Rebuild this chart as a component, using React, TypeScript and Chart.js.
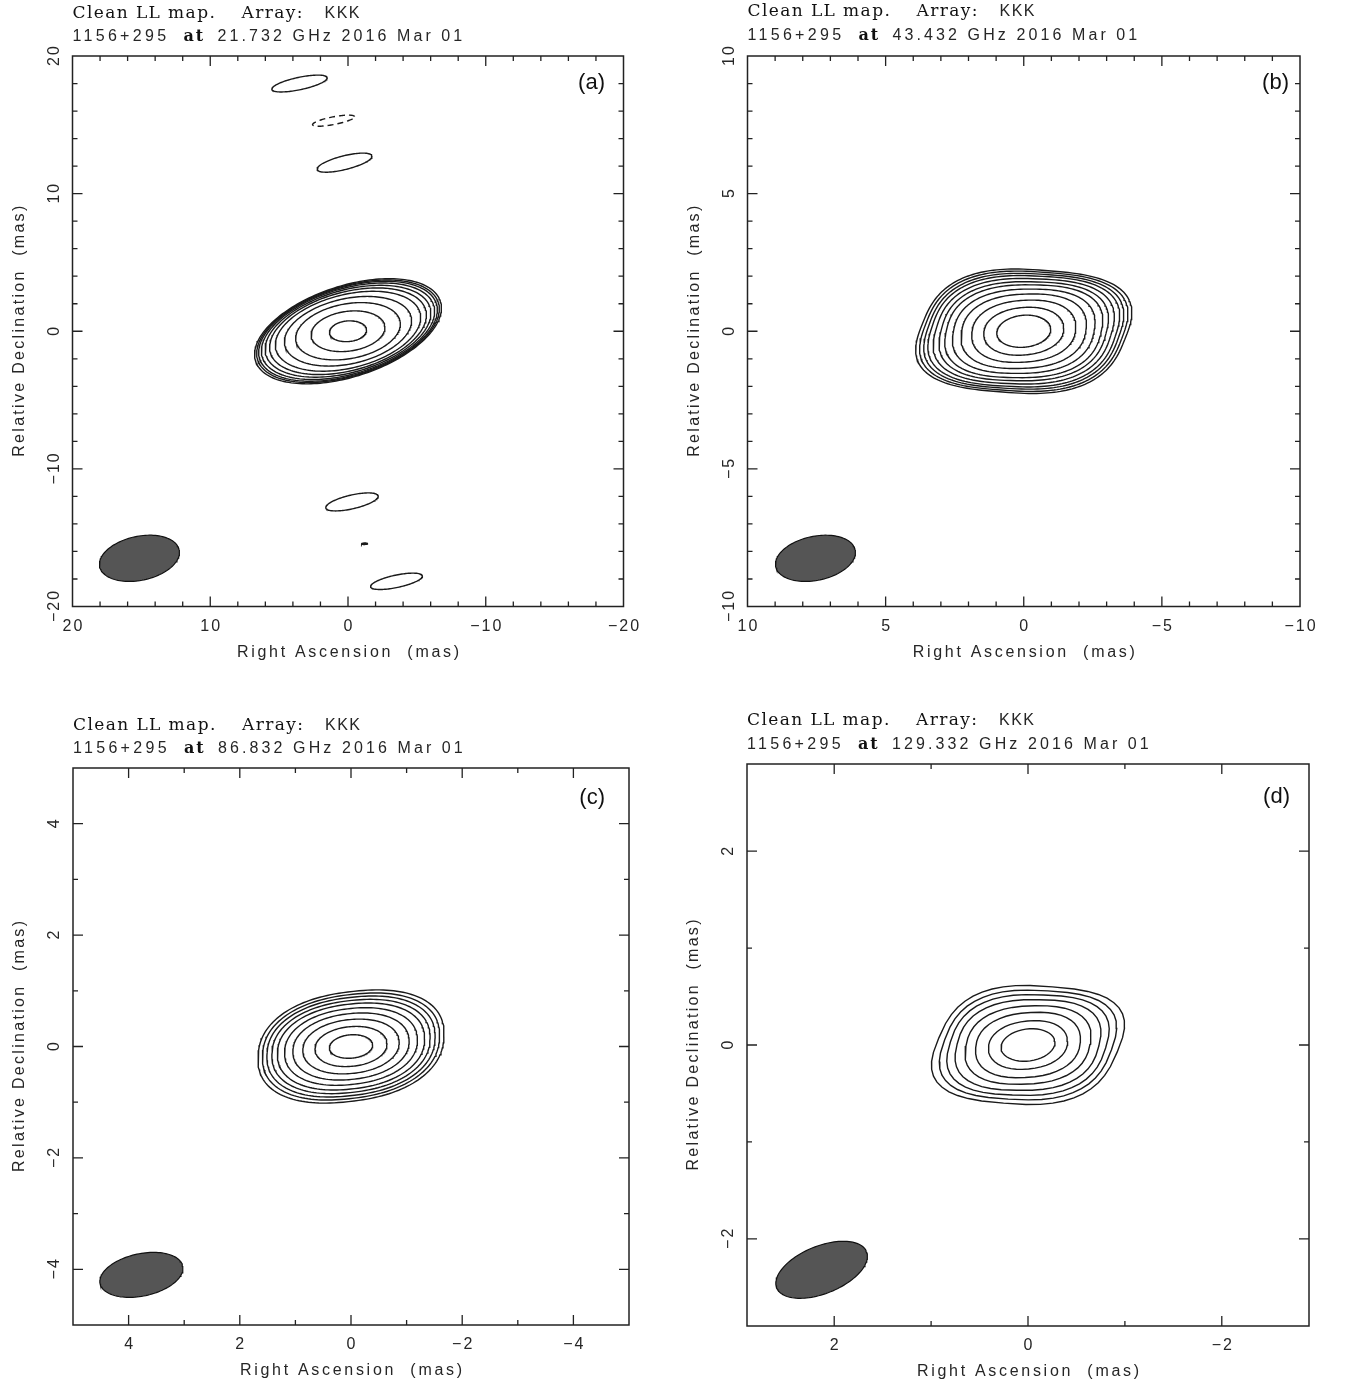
import React, { useEffect, useRef } from 'react';
import { Chart, registerables } from 'chart.js';
Chart.register(...registerables);

// ---------------- data ----------------
const panelLetters = ['(a)', '(b)', '(c)', '(d)'];
const sourceName = '1156+295';
const frequencies = ['21.732', '43.432', '86.832', '129.332'];
const obsDate = '2016 Mar 01';
const arrayName = 'KKK';

// half-range of both axes (mas)
const axisRanges = [20, 10, 5, 2.9];
const majorTicksA = [20, 10, 0, -10, -20];
const majorTicksB = [10, 5, 0, -5, -10];
const majorTicksC = [4, 2, 0, -2, -4];
const majorTicksD = [2, 0, -2];
const minorSteps = [2, 1, 1, 1];

// main component: semi-major axis of each contour (mas), inner -> outer
const levelsA = [1.35, 2.7, 3.85, 4.7, 5.4, 5.85, 6.2, 6.5, 6.72, 6.88, 7.05];
const levelsB = [0.98, 1.45, 1.88, 2.25, 2.54, 2.79, 2.97, 3.15, 3.31, 3.43, 3.55, 3.66];
const levelsC = [0.39, 0.65, 0.87, 1.05, 1.2, 1.33, 1.43, 1.52, 1.6, 1.68];
const levelsD = [0.28, 0.41, 0.54, 0.64, 0.73, 0.8, 0.86, 0.92];

// shape of innermost / outermost contour: [semi-minor (mas), squareness, x-shear, y-shear, angle (deg)]
const innerShapeA = [0.75, 2, 0, 0, 5];
const outerShapeA = [3.3, 2, 0, 0, 18];
const innerShapeB = [0.58, 2, 0, 0, 6];
const outerShapeB = [2.2, 2.8, 0.4, -0.08, 0];
const innerShapeC = [0.21, 2, 0, 0, 5];
const outerShapeC = [0.98, 2.3, 0.15, 0, 6];
const innerShapeD = [0.165, 2, 0, 0, 8];
const outerShapeD = [0.6, 2.8, 0.42, -0.08, 0];

// isolated single-contour components in panel (a)
const knotX = [3.52, 1.05, 0.25, -0.29, -1.2, -3.52];
const knotY = [18.0, 15.3, 12.25, -12.4, -15.44, -18.17];
const knotMajor = [2.05, 1.55, 2.05, 1.95, 0.22, 1.92];
const knotMinor = [0.45, 0.28, 0.5, 0.5, 0.05, 0.45];
const knotAngle = [12, 11, 14, 13, 0, 12];
const knotDashed = [false, true, false, false, false, false];

// restoring beams
const beamX = [15.14, 7.54, 3.77, 2.13];
const beamY = [-16.5, -8.25, -4.1, -2.32];
const beamMajor = [2.95, 1.47, 0.76, 0.5];
const beamMinor = [1.6, 0.8, 0.38, 0.245];
const beamAngle = [12, 12, 12, 22];

// ---------------- layout ----------------
const PAGE_W = 1349;
const PAGE_H = 1385;
const SANS = '"Liberation Sans", Arial, sans-serif';
const SERIF = '"DejaVu Serif", "Liberation Serif", serif';
const INK = '#1a1a1a';

type Panel = {
  idx: number;
  box: number[]; // canvas x, y, w, h (page coords)
  plot: number[]; // left, top, right, bottom (page coords)
  majors: number[];
  levels: number[];
  inner: number[];
  outer: number[];
  npts: number;
  titleY: number[];
  xTickY: number;
  xTitleY: number;
  yTickX: number;
  yTitleX: number;
  letterX: number;
  letterY: number;
};

const PANELS: Panel[] = [
  {
    idx: 0, box: [0, 0, 674, 692], plot: [72.5, 56, 623.5, 606.5], majors: majorTicksA,
    levels: levelsA, inner: innerShapeA, outer: outerShapeA, npts: 180,
    titleY: [17.5, 41], xTickY: 631, xTitleY: 657, yTickX: 58.5, yTitleX: 24, letterX: 605, letterY: 89,
  },
  {
    idx: 1, box: [674, 0, 675, 692], plot: [747.5, 56, 1300, 606.5], majors: majorTicksB,
    levels: levelsB, inner: innerShapeB, outer: outerShapeB, npts: 180,
    titleY: [15.5, 39.5], xTickY: 631, xTitleY: 657, yTickX: 733.5, yTitleX: 699, letterX: 1289, letterY: 89,
  },
  {
    idx: 2, box: [0, 692, 674, 693], plot: [73, 768, 629, 1325], majors: majorTicksC,
    levels: levelsC, inner: innerShapeC, outer: outerShapeC, npts: 160,
    titleY: [729.5, 753], xTickY: 1349, xTitleY: 1375, yTickX: 59, yTitleX: 24, letterX: 605, letterY: 804,
  },
  {
    idx: 3, box: [674, 692, 675, 693], plot: [747, 764, 1309, 1326], majors: majorTicksD,
    levels: levelsD, inner: innerShapeD, outer: outerShapeD, npts: 44,
    titleY: [724.5, 748.5], xTickY: 1350, xTitleY: 1376, yTickX: 733, yTitleX: 698, letterX: 1290, letterY: 803,
  },
];

// ---------------- geometry helpers ----------------
function shapePoints(cx: number, cy: number, a: number, b: number, n: number, kx: number, ky: number, angDeg: number, npts: number) {
  const th = (angDeg * Math.PI) / 180;
  const pts: { x: number; y: number }[] = [];
  for (let i = 0; i <= npts; i++) {
    const t = (2 * Math.PI * i) / npts;
    const c = Math.cos(t);
    const s = Math.sin(t);
    const u = a * Math.sign(c) * Math.pow(Math.abs(c), 2 / n);
    const v = b * Math.sign(s) * Math.pow(Math.abs(s), 2 / n);
    const u2 = u + kx * v;
    const v2 = v + ky * u;
    const right = u2 * Math.cos(th) - v2 * Math.sin(th);
    const up = u2 * Math.sin(th) + v2 * Math.cos(th);
    pts.push({ x: cx - right, y: cy + up });
  }
  return pts;
}

const lerp = (p: number, q: number, t: number) => p + (q - p) * t;

function lineDataset(data: { x: number; y: number }[], dashed = false) {
  return {
    data,
    showLine: true,
    borderColor: INK,
    borderWidth: 1.4,
    borderDash: dashed ? [6, 4] : [],
    pointRadius: 0,
    fill: false,
    tension: 0,
  };
}

function buildDatasets(p: Panel) {
  const ds: any[] = [];
  const a0 = p.levels[0];
  const a1 = p.levels[p.levels.length - 1];
  const r0 = p.inner[0] / a0;
  const r1 = p.outer[0] / a1;
  p.levels.forEach((a) => {
    const t = (a - a0) / (a1 - a0);
    const b = a * lerp(r0, r1, t);
    const pts = shapePoints(
      0, 0, a, b,
      lerp(p.inner[1], p.outer[1], t),
      lerp(p.inner[2], p.outer[2], t),
      lerp(p.inner[3], p.outer[3], t),
      lerp(p.inner[4], p.outer[4], t),
      p.npts,
    );
    ds.push(lineDataset(pts));
  });
  if (p.idx === 0) {
    knotX.forEach((x, k) => {
      ds.push(lineDataset(shapePoints(x, knotY[k], knotMajor[k], knotMinor[k], 2, 0, 0, knotAngle[k], 120), knotDashed[k]));
    });
  }
  const i = p.idx;
  ds.push({
    data: shapePoints(beamX[i], beamY[i], beamMajor[i], beamMinor[i], 2, 0, 0, beamAngle[i], 120),
    showLine: true,
    borderColor: '#111111',
    borderWidth: 1.2,
    backgroundColor: '#555555',
    fill: 'shape',
    pointRadius: 0,
    tension: 0,
  });
  return ds;
}

function fmt(v: number) {
  return v < 0 ? '\u2212' + String(Math.abs(v)) : String(v);
}

function drawText(ctx: CanvasRenderingContext2D, s: string, x: number, y: number, font: string, ls: number, align: CanvasTextAlign, rot = 0, color = '#262626') {
  ctx.save();
  ctx.font = font;
  (ctx as any).letterSpacing = ls + 'px';
  ctx.fillStyle = color;
  ctx.textAlign = align;
  ctx.textBaseline = 'alphabetic';
  ctx.translate(x, y);
  if (rot) ctx.rotate(rot);
  let dx = 0;
  if (align === 'center') dx = ls / 2;
  ctx.fillText(s, dx, 0);
  ctx.restore();
}

function framePlugin(p: Panel) {
  const ox = p.box[0];
  const oy = p.box[1];
  const range = axisRanges[p.idx];
  const minor = minorSteps[p.idx];
  return {
    id: 'frame' + p.idx,
    afterDraw(chart: any) {
      const ctx: CanvasRenderingContext2D = chart.ctx;
      const xs = chart.scales.x;
      const ys = chart.scales.y;
      const { left, right, top, bottom } = chart.chartArea;
      ctx.save();
      ctx.strokeStyle = '#222';
      ctx.lineWidth = 1.5;
      ctx.strokeRect(left, top, right - left, bottom - top);
      ctx.lineWidth = 1.3;
      const nMin = Math.ceil(-range / minor - 1e-9);
      const nMax = Math.floor(range / minor + 1e-9);
      ctx.beginPath();
      for (let k = nMin; k <= nMax; k++) {
        const v = k * minor;
        const isMajor = p.majors.some((m) => Math.abs(m - v) < 1e-9);
        const len = isMajor ? 10 : 5;
        const px = xs.getPixelForValue(v);
        const py = ys.getPixelForValue(v);
        if (px > left + 0.5 && px < right - 0.5) {
          ctx.moveTo(px, bottom); ctx.lineTo(px, bottom - len);
          ctx.moveTo(px, top); ctx.lineTo(px, top + len);
        }
        if (py > top + 0.5 && py < bottom - 0.5) {
          ctx.moveTo(left, py); ctx.lineTo(left + len, py);
          ctx.moveTo(right, py); ctx.lineTo(right - len, py);
        }
      }
      ctx.stroke();
      ctx.restore();

      const tickFont = `16px ${SANS}`;
      p.majors.forEach((v) => {
        drawText(ctx, fmt(v), xs.getPixelForValue(v), p.xTickY - oy, tickFont, 2, 'center');
        drawText(ctx, fmt(v), p.yTickX - ox, ys.getPixelForValue(v), tickFont, 2, 'center', -Math.PI / 2);
      });
      const cx = (left + right) / 2;
      const cy = (top + bottom) / 2;
      drawText(ctx, 'Right Ascension  (mas)', cx, p.xTitleY - oy, `16px ${SANS}`, 2.7, 'center');
      drawText(ctx, 'Relative Declination  (mas)', p.yTitleX - ox, cy, `16px ${SANS}`, 2.3, 'center', -Math.PI / 2);

      // panel letter
      drawText(ctx, panelLetters[p.idx], p.letterX - ox, p.letterY - oy, `22px ${SANS}`, 0, 'right', 0, '#111');

      // titles
      const tx = p.plot[0] - ox;
      const y1 = p.titleY[0] - oy;
      const y2 = p.titleY[1] - oy;
      drawText(ctx, 'Clean LL map.', tx, y1, `17px ${SERIF}`, 1.4, 'left', 0, '#111');
      drawText(ctx, 'Array:', tx + 169, y1, `17px ${SERIF}`, 1.4, 'left', 0, '#111');
      drawText(ctx, arrayName, tx + 252, y1, `16px ${SANS}`, 1.5, 'left');
      drawText(ctx, sourceName, tx, y2, `16px ${SANS}`, 3.3, 'left');
      drawText(ctx, 'at', tx + 111, y2, `bold 16px ${SERIF}`, 2, 'left', 0, '#111');
      drawText(ctx, `${frequencies[p.idx]} GHz ${obsDate}`, tx + 145, y2, `16px ${SANS}`, 3.1, 'left');
    },
  };
}

function buildConfig(p: Panel): any {
  const range = axisRanges[p.idx];
  const ox = p.box[0];
  const oy = p.box[1];
  return {
    type: 'scatter',
    data: { datasets: buildDatasets(p) },
    options: {
      responsive: false,
      maintainAspectRatio: false,
      animation: false,
      devicePixelRatio: 1,
      events: [],
      layout: {
        padding: {
          left: p.plot[0] - ox,
          top: p.plot[1] - oy,
          right: p.box[2] - (p.plot[2] - ox),
          bottom: p.box[3] - (p.plot[3] - oy),
        },
      },
      plugins: { legend: { display: false }, tooltip: { enabled: false }, title: { display: false } },
      scales: {
        x: { type: 'linear', min: -range, max: range, reverse: true, display: false },
        y: { type: 'linear', min: -range, max: range, display: false },
      },
    },
    plugins: [framePlugin(p)],
  };
}

export default function App() {
  const refs = useRef<(HTMLCanvasElement | null)[]>([]);
  useEffect(() => {
    const charts = PANELS.map((p, i) => new Chart(refs.current[i] as HTMLCanvasElement, buildConfig(p)));
    return () => charts.forEach((c) => c.destroy());
  }, []);
  return (
    <div style={{ position: 'absolute', left: 0, top: 0, width: PAGE_W, height: PAGE_H, background: '#fff', overflow: 'hidden' }}>
      {PANELS.map((p, i) => (
        <canvas
          key={i}
          ref={(el) => { refs.current[i] = el; }}
          width={p.box[2]}
          height={p.box[3]}
          style={{ position: 'absolute', left: p.box[0], top: p.box[1], width: p.box[2], height: p.box[3] }}
        />
      ))}
    </div>
  );
}
